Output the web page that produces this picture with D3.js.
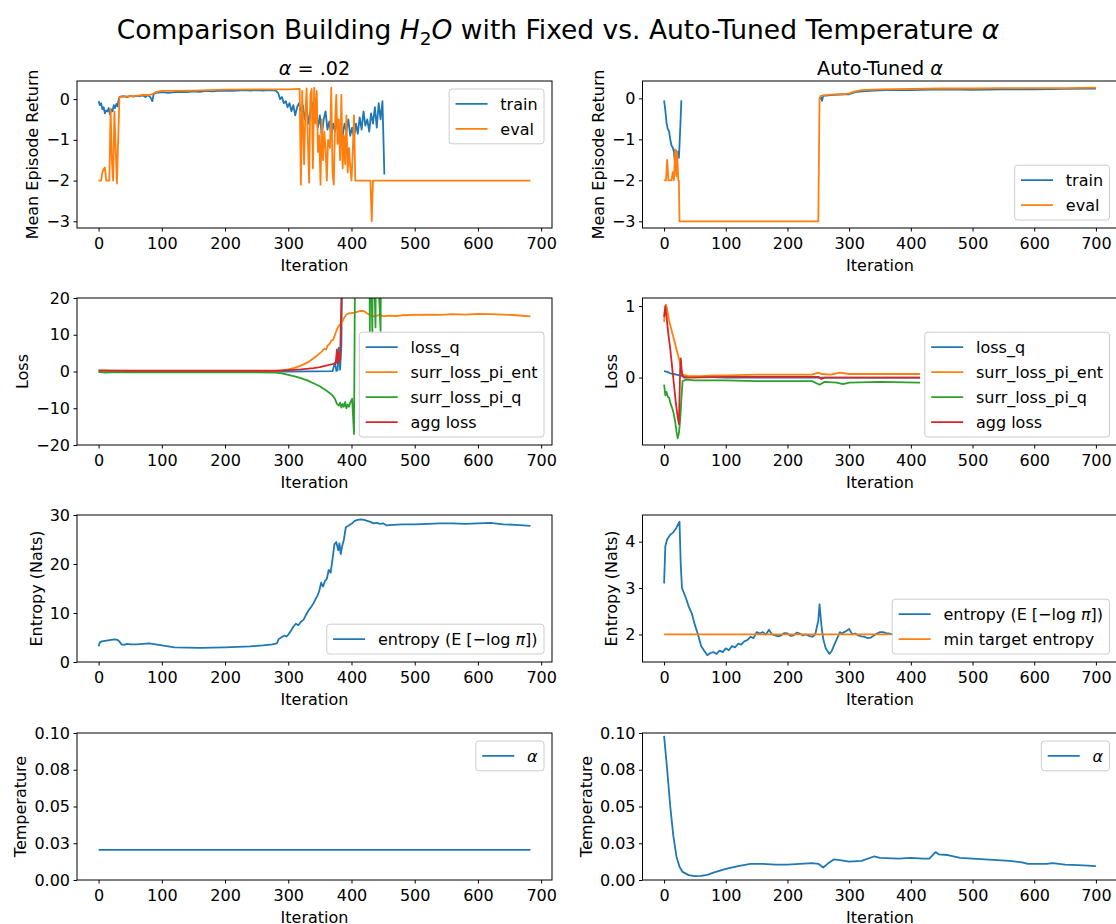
<!DOCTYPE html>
<html>
<head>
<meta charset="utf-8">
<script src="https://cdn.jsdelivr.net/npm/d3@7"></script>
<style>
  body { margin: 0; background: #fff; }
  svg text { font-family: "DejaVu Sans", sans-serif; fill: #000; }
</style>
</head>
<body>
<div id="chart"></div>
<script>
// ---- data: [iteration, value] ----
const iterTicks = [0, 100, 200, 300, 400, 500, 600, 700];

const fixedTrain = [[0,-0.05],[2,-0.15],[4,-0.1],[6,-0.25],[8,-0.2],[10,-0.35],[12,-0.28],[14,-0.3],[16,-0.22],[18,-0.38],[20,-0.25],[22,-0.3],[24,-0.15],[26,-0.22],[28,-0.12],[30,-0.18],[32,0.02],[34,0.06],[40,0.07],[45,0.05],[50,0.08],[55,0.06],[60,0.08],[65,0.07],[70,0.09],[74,0.05],[78,0.1],[82,0.04],[85,-0.05],[87,0.12],[90,0.15],[95,0.16],[100,0.17],[110,0.15],[120,0.17],[130,0.18],[140,0.17],[150,0.19],[160,0.18],[170,0.2],[180,0.19],[190,0.2],[200,0.21],[210,0.2],[220,0.21],[230,0.22],[240,0.21],[250,0.22],[260,0.21],[270,0.22],[280,0.21],[284,0.15],[287,0.0],[290,0.05],[293,-0.1],[296,-0.05],[299,-0.2],[302,-0.1],[305,-0.3],[308,-0.15],[311,-0.4],[314,-0.2],[317,-0.1],[320,-0.3],[323,-0.15],[326,-0.5],[329,-0.2],[332,-0.6],[335,-0.3],[338,-0.1],[341,-0.45],[344,-0.25],[347,-0.7],[350,-0.4],[353,-0.9],[356,-0.5],[359,-0.3],[362,-0.75],[365,-0.55],[368,-0.9],[371,-0.6],[374,-0.8],[377,-0.5],[380,-1.0],[383,-0.7],[386,-0.9],[389,-0.6],[392,-0.8],[395,-0.5],[398,-0.9],[401,-0.7],[404,-0.95],[407,-0.6],[410,-0.85],[413,-0.45],[416,-0.75],[419,-0.3],[422,-0.65],[425,-0.5],[428,-0.8],[431,-0.35],[434,-0.6],[437,-0.2],[440,-0.7],[443,-0.1],[446,-0.5],[449,-0.05],[452,-1.85]];
const fixedEval = [[0,-2.0],[4,-2.0],[6,-1.8],[8,-1.72],[10,-1.68],[12,-2.0],[17,-2.0],[19,-0.25],[21,-1.5],[23,-2.0],[25,-0.3],[27,-1.2],[29,-2.07],[31,-1.0],[33,0.05],[40,0.06],[50,0.07],[60,0.08],[70,0.1],[80,0.1],[85,0.12],[90,0.17],[100,0.2],[150,0.21],[200,0.23],[250,0.24],[300,0.24],[318,0.25],[320,-2.1],[322,0.2],[325,-1.6],[327,-0.4],[329,0.26],[331,-1.0],[333,-2.05],[335,0.1],[337,0.25],[339,-1.7],[341,0.28],[343,-0.6],[345,0.2],[347,-1.3],[349,-0.9],[351,-2.1],[353,-0.5],[355,-1.5],[357,-0.8],[359,-1.2],[361,-2.0],[363,-1.0],[366,-1.2],[368,0.28],[370,-1.8],[372,-2.1],[374,-0.6],[376,0.1],[378,-1.1],[380,-0.5],[382,-1.5],[384,0.1],[386,-1.7],[388,-0.9],[390,-1.6],[392,-0.4],[394,-1.8],[396,-1.2],[398,-1.65],[400,-2.0],[402,-1.3],[404,-0.4],[406,-2.0],[430,-2.0],[432,-3.0],[434,-2.0],[683,-2.0]];

const autoTrain = [[0,-0.05],[2,-0.3],[4,-0.6],[6,-0.75],[8,-0.8],[10,-1.0],[12,-1.15],[14,-1.2],[16,-1.3],[17,-1.5],[18,-1.25],[20,-1.3],[21,-1.5],[22,-1.3],[24,-1.45],[26,-0.8],[28,-0.05],[29,null],[251,null],[252,-0.02],[254,0.03],[256,-0.06],[258,0.06],[270,0.08],[290,0.1],[300,0.1],[310,0.15],[320,0.17],[340,0.19],[360,0.2],[400,0.2],[450,0.22],[500,0.21],[550,0.22],[600,0.22],[650,0.23],[700,0.24]];
const autoEval = [[0,-2.0],[3,-2.0],[5,-1.5],[7,-2.0],[12,-2.0],[14,-1.8],[16,-2.0],[18,-1.25],[20,-1.9],[21,-1.3],[23,-2.0],[24,-2.0],[25,-3.0],[250,-3.0],[252,0.0],[254,0.06],[258,0.07],[270,0.09],[290,0.1],[300,0.12],[310,0.17],[320,0.2],[350,0.22],[400,0.23],[450,0.24],[500,0.24],[550,0.25],[600,0.25],[650,0.25],[700,0.26]];

const fixedLossQ = [[0,0.1],[50,0.0],[100,0.0],[200,0.0],[300,0.0],[370,0.1],[374,2.5],[376,0.2],[378,0.3],[380,6.5],[382,0.5],[384,7],[386,40],[683,40]];
const fixedSurrEnt = [[0,0.2],[50,0.1],[100,0.0],[150,0.0],[200,0.0],[250,0.0],[280,0.1],[290,0.3],[300,0.6],[310,1.0],[320,1.6],[330,2.4],[335,3.0],[340,3.6],[345,4.3],[350,5.0],[353,5.4],[355,5.9],[358,6.2],[360,6.0],[362,7.0],[365,7.4],[368,8.4],[371,8.6],[374,10.0],[377,11.5],[380,12.5],[384,13.0],[388,14.5],[392,15.5],[396,15.8],[400,15.9],[405,16.0],[410,16.3],[415,16.5],[420,16.4],[425,15.8],[430,15.3],[435,15.0],[440,15.2],[445,15.4],[450,15.0],[460,15.2],[470,15.1],[480,15.3],[500,15.4],[520,15.5],[540,15.4],[560,15.6],[580,15.5],[600,15.7],[620,15.6],[640,15.5],[660,15.3],[683,15.0]];
const fixedSurrQ = [[0,-0.1],[10,-0.3],[20,-0.2],[50,-0.2],[100,-0.2],[200,-0.2],[250,-0.2],[280,-0.3],[290,-0.5],[300,-0.9],[310,-1.3],[320,-1.8],[330,-2.4],[340,-3.2],[350,-4.0],[355,-4.6],[360,-5.2],[365,-5.8],[370,-6.5],[374,-7.5],[377,-8.8],[380,-9.3],[382,-8.5],[384,-9.8],[386,-8.8],[388,-9.6],[390,-8.3],[392,-10.0],[394,-9.0],[396,-9.6],[398,-8.5],[401,-7.4],[404,-17],[406,40],[428,40],[429,11],[430,40],[433,10.5],[434,40],[438,12],[439,40],[446,11],[447,40],[683,40]];
const fixedAggLoss = [[0,0.3],[50,0.2],[100,0.2],[200,0.2],[250,0.2],[280,0.2],[300,0.4],[320,0.6],[340,0.9],[350,1.2],[360,1.6],[370,2.0],[375,2.2],[377,6.0],[378,2.3],[380,5],[382,3],[384,20],[385,40],[683,40]];

const autoLossQ = [[0,0.09],[5,0.08],[10,0.06],[15,0.05],[20,0.04],[25,0.03],[30,0.02],[40,0.01],[60,0.01],[100,0.0],[200,0.0],[300,0.0],[415,0.0]];
const autoSurrEnt = [[0,0.78],[1,0.9],[3,1.02],[5,0.95],[8,0.8],[11,0.7],[14,0.6],[17,0.5],[20,0.4],[23,0.3],[26,0.2],[28,0.1],[30,0.04],[40,0.02],[60,0.02],[80,0.03],[100,0.03],[150,0.04],[200,0.04],[240,0.04],[250,0.07],[255,0.05],[270,0.04],[285,0.07],[300,0.05],[350,0.05],[400,0.05],[415,0.05]];
const autoSurrQ = [[0,-0.1],[2,-0.25],[4,-0.2],[6,-0.27],[8,-0.28],[10,-0.35],[12,-0.4],[14,-0.45],[16,-0.52],[18,-0.62],[20,-0.75],[22,-0.85],[24,-0.78],[26,-0.6],[28,-0.3],[30,-0.05],[35,-0.03],[50,-0.04],[100,-0.04],[150,-0.05],[200,-0.05],[240,-0.05],[252,-0.1],[260,-0.06],[280,-0.07],[290,-0.09],[300,-0.07],[350,-0.06],[415,-0.07]];
const autoAggLoss = [[0,0.85],[2,1.0],[4,0.85],[7,0.6],[10,0.4],[13,0.15],[16,-0.1],[19,-0.35],[22,-0.55],[24,-0.65],[26,0.1],[27,0.27],[29,0.05],[32,0.0],[40,0.0],[100,0.01],[200,0.01],[250,0.01],[255,-0.02],[260,0.0],[300,0.0],[415,0.0]];

const fixedEntropy = [[0,3.2],[2,4.0],[5,4.2],[10,4.3],[15,4.4],[20,4.5],[25,4.6],[30,4.5],[33,4.2],[36,3.6],[40,3.5],[45,3.7],[50,3.6],[60,3.6],[70,3.7],[80,3.8],[90,3.6],[100,3.4],[110,3.2],[120,3.0],[140,2.95],[160,2.9],[180,2.95],[200,3.0],[220,3.1],[240,3.2],[260,3.4],[275,3.6],[282,3.8],[285,4.7],[290,5.1],[294,5.4],[297,5.2],[300,5.6],[304,6.3],[308,7.2],[312,7.8],[316,7.5],[320,8.2],[324,8.6],[328,9.6],[332,10.5],[336,11.2],[340,12.0],[343,12.8],[346,13.5],[349,14.5],[352,16.2],[355,15.4],[358,16.5],[361,17.0],[364,18.8],[367,18.2],[370,21.0],[373,24.0],[376,24.5],[379,22.8],[381,24.2],[383,22.0],[385,23.5],[388,25.0],[391,27.5],[395,27.8],[400,28.2],[405,28.8],[410,29.0],[415,29.1],[420,29.0],[425,28.8],[430,28.6],[435,28.3],[440,28.4],[445,28.2],[450,28.3],[455,27.9],[465,28.0],[480,28.1],[500,28.1],[520,28.2],[540,28.3],[560,28.3],[580,28.2],[600,28.3],[620,28.4],[640,28.1],[660,28.0],[683,27.8]];
const autoEntropy = [[0,3.1],[2,3.9],[5,4.05],[10,4.15],[15,4.2],[20,4.3],[25,4.43],[27,3.5],[29,3.0],[35,2.8],[40,2.6],[45,2.45],[50,2.2],[55,2.0],[60,1.75],[65,1.65],[70,1.55],[75,1.6],[80,1.62],[85,1.58],[90,1.65],[95,1.62],[100,1.7],[105,1.66],[110,1.75],[115,1.72],[120,1.8],[125,1.78],[130,1.85],[135,1.88],[140,1.95],[145,1.92],[150,2.05],[155,2.02],[160,2.05],[165,2.0],[170,2.1],[175,2.0],[180,1.98],[185,1.96],[190,1.98],[195,2.03],[200,2.02],[205,1.97],[210,1.98],[215,2.04],[220,2.02],[225,1.98],[230,2.0],[235,1.97],[240,1.95],[245,2.0],[250,2.3],[252,2.65],[255,2.2],[258,1.9],[262,1.7],[268,1.58],[272,1.65],[276,1.78],[280,1.9],[285,2.05],[288,2.02],[292,2.05],[296,2.08],[300,2.12],[305,2.0],[310,2.02],[315,1.98],[320,1.96],[325,1.95],[330,1.92],[335,1.93],[340,1.98],[345,2.02],[350,2.05],[355,2.05],[360,2.03],[365,2.02],[370,2.0]];
const minTargetEntropy = [[0,2.0],[367,2.0]];

const fixedAlpha = [[0,0.0205],[683,0.0205]];
const autoAlpha = [[0,0.098],[5,0.075],[10,0.05],[15,0.03],[20,0.016],[25,0.009],[30,0.0055],[40,0.0033],[50,0.0026],[60,0.0028],[70,0.0035],[80,0.005],[100,0.0075],[120,0.0095],[140,0.011],[160,0.011],[180,0.0105],[200,0.0105],[220,0.011],[240,0.0115],[250,0.011],[258,0.0085],[265,0.011],[275,0.014],[285,0.0135],[300,0.0125],[320,0.013],[340,0.016],[350,0.015],[380,0.0145],[400,0.015],[420,0.0145],[430,0.0145],[440,0.019],[445,0.0175],[460,0.017],[480,0.015],[500,0.0145],[520,0.014],[540,0.0135],[560,0.013],[580,0.012],[590,0.011],[620,0.011],[630,0.0115],[650,0.0105],[680,0.010],[700,0.0095]];

const returnTicks = [-3, -2, -1, 0];
const lossFixedTicks = [-20, -10, 0, 10, 20];
const lossAutoTicks = [0, 1];
const entropyFixedTicks = [0, 10, 20, 30];
const entropyAutoTicks = [2, 3, 4];
const tempTicks = [0, 0.025, 0.05, 0.075, 0.1];
const tempTickLabels = ['0.00', '0.03', '0.05', '0.08', '0.10'];

// matplotlib default cycle
const C0 = '#1f77b4', C1 = '#ff7f0e', C2 = '#2ca02c', C3 = '#d62728';

const width = 1116, height = 924;
const colX = [77, 642.5], axW = 475;
const rowY = [81, 298, 515, 733], axH = 147;
const fs = 16;

const lossSeries = (q, ent, sq, agg) => [
  { data: q, color: C0, label: 'loss_q' },
  { data: ent, color: C1, label: 'surr_loss_pi_ent' },
  { data: sq, color: C2, label: 'surr_loss_pi_q' },
  { data: agg, color: C3, label: 'agg loss' }
];

const panels = [
  { col: 0, row: 0, ylabel: 'Mean Episode Return', yTicks: returnTicks, legend: 'upper right',
    series: [{ data: fixedTrain, color: C0, label: 'train' }, { data: fixedEval, color: C1, label: 'eval' }] },
  { col: 1, row: 0, ylabel: 'Mean Episode Return', yTicks: returnTicks, legend: 'lower right',
    series: [{ data: autoTrain, color: C0, label: 'train' }, { data: autoEval, color: C1, label: 'eval' }] },
  { col: 0, row: 1, ylabel: 'Loss', yTicks: lossFixedTicks, yDomain: [-20, 20], legend: 'lower right',
    series: lossSeries(fixedLossQ, fixedSurrEnt, fixedSurrQ, fixedAggLoss) },
  { col: 1, row: 1, ylabel: 'Loss', yTicks: lossAutoTicks, legend: 'lower right',
    series: lossSeries(autoLossQ, autoSurrEnt, autoSurrQ, autoAggLoss) },
  { col: 0, row: 2, ylabel: 'Entropy (Nats)', yTicks: entropyFixedTicks, yDomain: [0, 30], legend: 'lower right',
    series: [{ data: fixedEntropy, color: C0, label: 'entropy' }] },
  { col: 1, row: 2, ylabel: 'Entropy (Nats)', yTicks: entropyAutoTicks, legend: 'lower right',
    series: [{ data: autoEntropy, color: C0, label: 'entropy' }, { data: minTargetEntropy, color: C1, label: 'min target entropy' }] },
  { col: 0, row: 3, ylabel: 'Temperature', yTicks: tempTicks, yTickLabels: tempTickLabels, yDomain: [0, 0.1], legend: 'upper right',
    series: [{ data: fixedAlpha, color: C0, label: 'alpha' }] },
  { col: 1, row: 3, ylabel: 'Temperature', yTicks: tempTicks, yTickLabels: tempTickLabels, yDomain: [0, 0.1], legend: 'upper right',
    series: [{ data: autoAlpha, color: C0, label: 'alpha' }] }
];

// shared x per column
const colMax = [0, 1].map(c => d3.max(panels.filter(p => p.col === c).flatMap(p => p.series.flatMap(s => s.data.map(d => d[0])))));

const svg = d3.select('#chart').append('svg')
  .attr('width', width).attr('height', height);

// legend labels that need math styling
function writeLabel(text, label) {
  if (label === 'entropy') {
    text.append('tspan').text('entropy (E [−log ');
    text.append('tspan').attr('font-style', 'italic').text('π');
    text.append('tspan').text('])');
  } else if (label === 'alpha') {
    text.append('tspan').attr('font-style', 'italic').text('α');
  } else {
    text.text(label);
  }
}

function drawLegend(g, items, loc) {
  const pad = 6.4, gap = 8, handle = 32, hpad = 12.8, th = 17, sp = 8;
  const lg = g.append('g');
  const box = lg.append('rect');
  const texts = items.map(it => {
    const t = lg.append('text').attr('font-size', fs).attr('dy', '0.35em');
    writeLabel(t, it.label);
    return t;
  });
  const maxW = d3.max(texts, t => t.node().getComputedTextLength());
  const bw = pad * 2 + handle + hpad + maxW;
  const bh = pad * 2 + items.length * th + (items.length - 1) * sp;
  const bx = axW - gap - bw;
  const by = loc === 'upper right' ? gap : axH - gap - bh;
  box.attr('x', bx).attr('y', by).attr('width', bw).attr('height', bh)
    .attr('rx', 3).attr('fill', '#fff').attr('fill-opacity', 0.8)
    .attr('stroke', '#ccc').attr('stroke-width', 1);
  items.forEach((it, i) => {
    const cy = by + pad + th / 2 + i * (th + sp);
    lg.append('line').attr('x1', bx + pad).attr('x2', bx + pad + handle)
      .attr('y1', cy).attr('y2', cy).attr('stroke', it.color).attr('stroke-width', 1.8);
    texts[i].attr('x', bx + pad + handle + hpad).attr('y', cy);
  });
}

panels.forEach((p, idx) => {
  const g = svg.append('g').attr('transform', `translate(${colX[p.col]},${rowY[p.row]})`);
  const xm = colMax[p.col];
  const x = d3.scaleLinear().domain([-0.05 * xm, 1.05 * xm]).range([0, axW]);
  let yd = p.yDomain;
  if (!yd) {
    const vals = p.series.flatMap(s => s.data.map(d => d[1])).filter(v => v != null);
    const lo = d3.min(vals), hi = d3.max(vals), m = (hi - lo) * 0.05;
    yd = [lo - m, hi + m];
  }
  const y = d3.scaleLinear().domain(yd).range([axH, 0]);

  const clipId = 'clip' + idx;
  g.append('clipPath').attr('id', clipId)
    .append('rect').attr('width', axW).attr('height', axH);

  const line = d3.line().defined(d => d[1] != null).x(d => x(d[0])).y(d => y(d[1]));
  const plot = g.append('g').attr('clip-path', `url(#${clipId})`);
  p.series.forEach(s => {
    plot.append('path').datum(s.data).attr('d', line)
      .attr('fill', 'none').attr('stroke', s.color).attr('stroke-width', 1.8)
      .attr('stroke-linejoin', 'round');
  });

  // axes
  const xa = g.append('g').attr('transform', `translate(0,${axH})`)
    .call(d3.axisBottom(x).tickValues(iterTicks).tickSize(3.5).tickPadding(3.5).tickSizeOuter(0));
  xa.selectAll('text').attr('y', 21).attr('dy', null);
  const ya = g.append('g')
    .call(d3.axisLeft(y).tickValues(p.yTicks).tickSize(3.5).tickPadding(3.5).tickSizeOuter(0)
      .tickFormat((d, i) => p.yTickLabels ? p.yTickLabels[i] : d3.format('')(d).replace('-', '−')));
  [xa, ya].forEach(a => {
    a.select('.domain').remove();
    a.selectAll('line').attr('stroke', '#000').attr('stroke-width', 1);
    a.selectAll('text').attr('font-size', fs).attr('font-family', '"DejaVu Sans", sans-serif').attr('fill', '#000');
  });

  // spines
  g.append('rect').attr('width', axW).attr('height', axH)
    .attr('fill', 'none').attr('stroke', '#000').attr('stroke-width', 1);

  g.append('text').attr('x', axW / 2).attr('y', axH + 43)
    .attr('text-anchor', 'middle').attr('font-size', fs).text('Iteration');

  const tickW = d3.max(ya.selectAll('text').nodes(), n => n.getComputedTextLength());
  const lx = -7 - tickW - 4 - 4;
  g.append('text').attr('transform', `translate(${lx},${axH / 2}) rotate(-90)`)
    .attr('text-anchor', 'middle').attr('font-size', fs).text(p.ylabel);

  drawLegend(g, p.series, p.legend);

  if (p.row === 0) {
    const t = g.append('text').attr('x', axW / 2).attr('y', -6)
      .attr('text-anchor', 'middle').attr('font-size', 19.2);
    if (p.col === 0) {
      t.append('tspan').attr('font-style', 'italic').text('α');
      t.append('tspan').text(' = .02');
    } else {
      t.append('tspan').text('Auto-Tuned ');
      t.append('tspan').attr('font-style', 'italic').text('α');
    }
  }
});

// figure title
const title = svg.append('text').attr('x', width / 2).attr('y', 39)
  .attr('text-anchor', 'middle').attr('font-size', 26.5);
title.append('tspan').text('Comparison Building ');
title.append('tspan').attr('font-style', 'italic').text('H');
title.append('tspan').attr('font-size', 18.5).attr('dy', 6).text('2');
title.append('tspan').attr('font-style', 'italic').attr('dy', -6).text('O');
title.append('tspan').text(' with Fixed vs. Auto-Tuned Temperature ');
title.append('tspan').attr('font-style', 'italic').text('α');
</script>
</body>
</html>
